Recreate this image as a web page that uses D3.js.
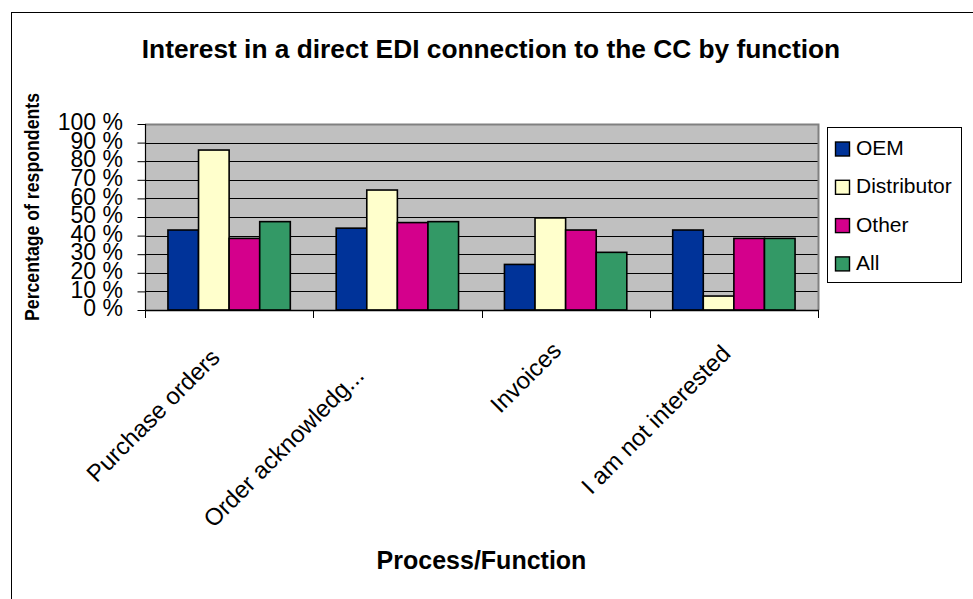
<!DOCTYPE html>
<html>
<head>
<meta charset="utf-8">
<script src="https://cdn.jsdelivr.net/npm/d3@7"></script>
<style>
  html, body { margin: 0; padding: 0; background: #fff; }
  svg { display: block; font-family: "Liberation Sans", Arial, sans-serif; }
</style>
</head>
<body>
<svg id="chart" width="973" height="599"></svg>
<script>
// ---- data ----
const categories = ["Purchase orders", "Order acknowledg...", "Invoices", "I am not interested"];
const seriesNames = ["OEM", "Distributor", "Other", "All"];
const oemValues = [43, 44, 24.5, 43];
const distributorValues = [86, 64.5, 49.5, 7.5];
const otherValues = [38.5, 47, 43, 38.5];
const allValues = [47.5, 47.5, 31, 38.5];
const yTickValues = [0, 10, 20, 30, 40, 50, 60, 70, 80, 90, 100];
const titleText = "Interest in a direct EDI connection to the CC by function";
const yTitleText = "Percentage of respondents";
const xTitleText = "Process/Function";

// ---- layout / style ----
const colors = ["#003399", "#FFFFCC", "#D4008C", "#339966"];
const plot = { left: 145, top: 124, right: 818, bottom: 310 };
// per-label shift of rotated category labels (baseline end relative to band centre / axis)
const labelShift = [[-8, 49], [-32, 67], [-3, 42], [-2, 45]];

const seriesValues = [oemValues, distributorValues, otherValues, allValues];
const table = categories.map((c, i) => ({
  category: c,
  values: seriesNames.map((s, j) => ({ series: s, idx: j, value: seriesValues[j][i] }))
}));

const svg = d3.select("#chart");

// outer frame
svg.append("rect").attr("x", 11.5).attr("y", 12.5).attr("width", 1000).attr("height", 1000)
  .attr("fill", "#fff").attr("stroke", "#000").attr("stroke-width", 1);

const x0 = d3.scaleBand().domain(categories).range([plot.left, plot.right]).padding(0);
const x1 = d3.scaleBand().domain(seriesNames).range([0, x0.bandwidth()]).paddingInner(0).paddingOuter(0.75);
const y = d3.scaleLinear().domain([0, 100]).range([plot.bottom, plot.top]);

// plot background
svg.append("rect").attr("x", plot.left).attr("y", plot.top)
  .attr("width", plot.right - plot.left).attr("height", plot.bottom - plot.top)
  .attr("fill", "#C0C0C0");

// gridlines
svg.append("g").selectAll("line").data(yTickValues.filter(v => v > 0 && v < 100)).join("line")
  .attr("x1", plot.left).attr("x2", plot.right)
  .attr("y1", d => Math.round(y(d)) + 0.5).attr("y2", d => Math.round(y(d)) + 0.5)
  .attr("stroke", "#000").attr("stroke-width", 1);

// plot border (top & right grey)
svg.append("path")
  .attr("d", `M${plot.left},${plot.top + 0.5}H${plot.right + 0.5}V${plot.bottom}`)
  .attr("fill", "none").attr("stroke", "#808080").attr("stroke-width", 2);

// bars
const groups = svg.append("g").selectAll("g").data(table).join("g")
  .attr("transform", d => `translate(${x0(d.category)},0)`);
groups.selectAll("rect").data(d => d.values).join("rect")
  .attr("x", d => x1(d.series))
  .attr("y", d => y(d.value))
  .attr("width", x1.bandwidth())
  .attr("height", d => y(0) - y(d.value))
  .attr("fill", d => colors[d.idx])
  .attr("stroke", "#000").attr("stroke-width", 1.6);

// y axis
const yAxis = d3.axisLeft(y).tickValues(yTickValues).tickSize(8).tickPadding(14)
  .tickFormat(d => d + " %");
const yg = svg.append("g").attr("transform", `translate(${plot.left},0)`).call(yAxis);
yg.select(".domain").attr("stroke", "#000").attr("stroke-width", 1.2).attr("d", `M0.5,${plot.top}V${plot.bottom}`);
yg.selectAll(".tick line").attr("stroke", "#000").attr("x2", 0).attr("x1", -8).attr("transform", "translate(0.5,0)");
yg.selectAll(".tick text").attr("font-size", 23).attr("fill", "#000")
  .attr("font-family", "Liberation Sans, Arial, sans-serif").attr("dy", "0.25em");

// x axis: ticks at category boundaries
const xg = svg.append("g");
xg.append("line").attr("x1", plot.left).attr("x2", plot.right + 1)
  .attr("y1", plot.bottom + 0.5).attr("y2", plot.bottom + 0.5).attr("stroke", "#000").attr("stroke-width", 1.4);
const boundaries = categories.map(c => x0(c)).concat([x0.range()[1]]);
xg.selectAll("line.tk").data(boundaries).join("line").attr("class", "tk")
  .attr("x1", d => Math.round(d) + 0.5).attr("x2", d => Math.round(d) + 0.5)
  .attr("y1", plot.bottom).attr("y2", plot.bottom + 8).attr("stroke", "#000");

// category labels (rotated -45)
xg.selectAll("text").data(categories).join("text")
  .attr("transform", (d, i) => `translate(${x0(d) + x0.bandwidth() / 2 + labelShift[i][0]},${plot.bottom + labelShift[i][1]}) rotate(-45)`)
  .attr("text-anchor", "end").attr("font-size", 24).attr("fill", "#000")
  .text(d => d);

// titles
svg.append("text").attr("x", 491).attr("y", 58).attr("text-anchor", "middle")
  .attr("font-size", 26.3).attr("font-weight", "bold").text(titleText);
svg.append("text").attr("transform", `translate(39,207) rotate(-90)`).attr("text-anchor", "middle")
  .attr("font-size", 20).attr("font-weight", "bold")
  .attr("textLength", 228).attr("lengthAdjust", "spacingAndGlyphs").text(yTitleText);
svg.append("text").attr("x", plot.left + (plot.right - plot.left) / 2).attr("y", 569).attr("text-anchor", "middle")
  .attr("font-size", 25).attr("font-weight", "bold").text(xTitleText);

// legend
const legend = svg.append("g");
legend.append("rect").attr("x", 827.5).attr("y", 127.5).attr("width", 134).attr("height", 155)
  .attr("fill", "#fff").attr("stroke", "#000").attr("stroke-width", 1);
const li = legend.selectAll("g").data(seriesNames).join("g")
  .attr("transform", (d, i) => `translate(835.5,${142 + i * 38.3})`);
li.append("rect").attr("width", 14).attr("height", 14)
  .attr("fill", (d, i) => colors[i]).attr("stroke", "#000").attr("stroke-width", 1.4);
li.append("text").attr("x", 20.5).attr("y", 13).attr("font-size", 21).attr("fill", "#000").text(d => d);
</script>
</body>
</html>
